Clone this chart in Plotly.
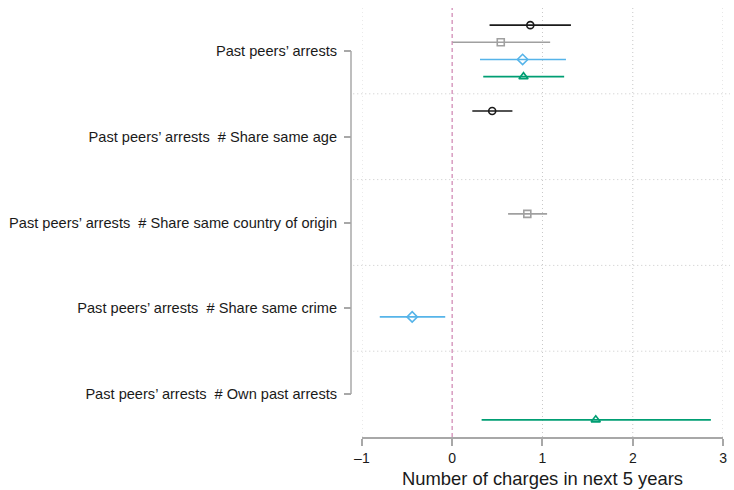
import plotly.graph_objects as go

# Coefficient labels (y categories)
labels = [
    "Past peers\u2019 arrests",
    "Past peers\u2019 arrests \u00a0# Share same age",
    "Past peers\u2019 arrests \u00a0# Share same country of origin",
    "Past peers\u2019 arrests \u00a0# Share same crime",
    "Past peers\u2019 arrests \u00a0# Own past arrests",
]
x_ticks = [-1, 0, 1, 2, 3]
x_ticktext = ["\u20131", "0", "1", "2", "3"]

# Series (models): group index (1-based), estimate, lower CI, upper CI
m1_groups = [1, 2]
m1_est = [0.865, 0.443]
m1_lo = [0.414, 0.223]
m1_hi = [1.315, 0.667]

m2_groups = [1, 3]
m2_est = [0.538, 0.832]
m2_lo = [0.003, 0.619]
m2_hi = [1.085, 1.051]

m3_groups = [1, 4]
m3_est = [0.780, -0.443]
m3_lo = [0.308, -0.802]
m3_hi = [1.260, -0.077]

m4_groups = [1, 5]
m4_est = [0.790, 1.590]
m4_lo = [0.344, 0.326]
m4_hi = [1.240, 2.865]

series = [
    dict(g=m1_groups, est=m1_est, lo=m1_lo, hi=m1_hi, off=-0.3, color="#1a1a1a", symbol="circle-open", size=7),
    dict(g=m2_groups, est=m2_est, lo=m2_lo, hi=m2_hi, off=-0.1, color="#a0a0a0", symbol="square-open", size=7),
    dict(g=m3_groups, est=m3_est, lo=m3_lo, hi=m3_hi, off=0.1, color="#56b4e9", symbol="diamond-open", size=8),
    dict(g=m4_groups, est=m4_est, lo=m4_lo, hi=m4_hi, off=0.3, color="#009e73", symbol="triangle-up-open", size=8),
]

fig = go.Figure()

for s in series:
    ys = [g + s["off"] for g in s["g"]]
    fig.add_trace(go.Scatter(
        x=s["est"], y=ys, mode="markers",
        marker=dict(symbol=s["symbol"], size=s["size"], color=s["color"],
                    line=dict(width=1.6, color=s["color"])),
        error_x=dict(type="data", symmetric=False,
                     array=[h - e for h, e in zip(s["hi"], s["est"])],
                     arrayminus=[e - l for e, l in zip(s["est"], s["lo"])],
                     width=0, thickness=1.6, color=s["color"]),
        showlegend=False, hoverinfo="skip",
    ))

W, H = 734, 490
ml, mr, mt, mb = 351, 0, 8, 53
pw = W - ml - mr
x_left_px, x_right_px = 362, 727
dom = [(x_left_px - ml) / pw, (x_right_px - ml) / pw]

grid_style = dict(color="#c8c8c8", width=1, dash="1px,3px")
shapes = []
# horizontal dotted separators between groups
for k in range(1, len(labels)):
    shapes.append(dict(type="line", xref="paper", yref="y", x0=0.006, x1=1.0,
                       y0=k + 0.5, y1=k + 0.5, line=grid_style, layer="below"))
# vertical dotted grid at non-zero ticks
for t in x_ticks:
    if t != 0:
        shapes.append(dict(type="line", xref="x", yref="paper", x0=t, x1=t, y0=0, y1=1,
                           line=grid_style, layer="below"))
# reference line at 0
shapes.append(dict(type="line", xref="x", yref="paper", x0=0, x1=0, y0=0, y1=1,
                   line=dict(color="#d89cc0", width=1.5, dash="4px,3px"), layer="below"))
# y axis line spanning first to last category
shapes.append(dict(type="line", xref="paper", yref="y", x0=0, x1=0, y0=1, y1=len(labels),
                   line=dict(color="#a8a8a8", width=1.5)))

fig.update_layout(
    width=W, height=H,
    margin=dict(l=ml, r=mr, t=mt, b=mb, pad=0),
    paper_bgcolor="white", plot_bgcolor="white",
    font=dict(family="Liberation Sans, Arial, sans-serif", color="#1a1a1a", size=14.6),
    shapes=shapes,
    xaxis=dict(
        domain=dom, range=[-1, 3], tickvals=x_ticks, ticktext=x_ticktext,
        showgrid=False, zeroline=False, showline=True, linecolor="#a8a8a8", linewidth=1.5,
        ticks="outside", ticklen=7, tickwidth=1.5, tickcolor="#a8a8a8",
        tickfont=dict(size=14),
        title=dict(text="Number of charges in next 5 years", font=dict(size=18.4), standoff=8),
    ),
    yaxis=dict(
        range=[len(labels) + 0.5, 0.5], anchor="free", position=0,
        tickvals=list(range(1, len(labels) + 1)), ticktext=labels,
        showgrid=False, zeroline=False, showline=False,
        ticks="outside", ticklen=7, tickwidth=1.5, tickcolor="#a8a8a8",
        tickfont=dict(size=14.6), ticklabelstandoff=4,
    ),
)

fig.write_html("out.html")
